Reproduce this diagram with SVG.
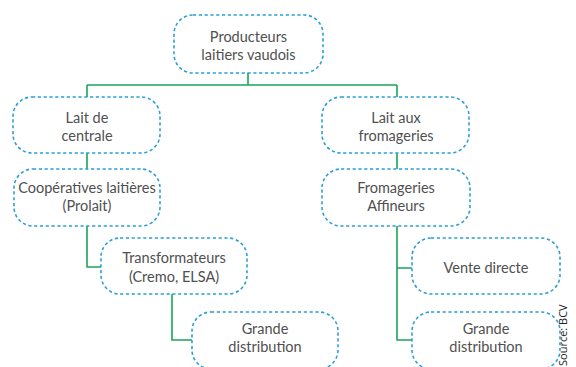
<svg xmlns="http://www.w3.org/2000/svg" width="576" height="367" viewBox="0 0 576 367">
<style>
.box{fill:#fff;stroke:#2e9fd8;stroke-width:1.6;stroke-dasharray:3.2 2.6}
.t{font-family:Lato,"Open Sans",sans-serif;font-size:14.5px;fill:#505050;text-anchor:middle}
.c{fill:none;stroke:#1aa45a;stroke-width:1.6}
.src{font-family:"Open Sans","Liberation Sans",sans-serif;font-size:11px;fill:#222}
</style>
<rect width="576" height="367" fill="#fff"/>
<g id="connectors">
<path class="c" d="M248,73 V85 M87,85 H397 M87,85 V97 M397,85 V97"/>
<path class="c" d="M87,153 V169 M87,226 V267 H101 M172,294 V340 H192"/>
<path class="c" d="M397,153 V169 M397,226 V340 H412 M397,268 H412"/>
</g>
<g id="n-producteurs">
<rect class="box" x="174" y="15" width="149" height="58" rx="19"/>
<text class="t" x="248.5" y="42">Producteurs</text>
<text class="t" x="248.5" y="60">laitiers vaudois</text>
</g>
<g id="n-lait-centrale">
<rect class="box" x="13" y="97" width="147" height="56" rx="19"/>
<text class="t" x="87" y="123">Lait de</text>
<text class="t" x="87" y="141">centrale</text>
</g>
<g id="n-cooperatives">
<rect class="box" x="14" y="169" width="146" height="57" rx="19"/>
<text class="t" x="87" y="193">Coopératives laitières</text>
<text class="t" x="87" y="211">(Prolait)</text>
</g>
<g id="n-transformateurs">
<rect class="box" x="101" y="238" width="146" height="56" rx="19"/>
<text class="t" x="174" y="263">Transformateurs</text>
<text class="t" x="174" y="282">(Cremo, ELSA)</text>
</g>
<g id="n-grande-distribution-1">
<rect class="box" x="192" y="312" width="146" height="57" rx="19"/>
<text class="t" x="265" y="334">Grande</text>
<text class="t" x="265" y="352">distribution</text>
</g>
<g id="n-lait-fromageries">
<rect class="box" x="322" y="97" width="147" height="56" rx="19"/>
<text class="t" x="396" y="123">Lait aux</text>
<text class="t" x="396" y="141">fromageries</text>
</g>
<g id="n-fromageries-affineurs">
<rect class="box" x="322" y="169" width="148" height="57" rx="19"/>
<text class="t" x="396" y="193">Fromageries</text>
<text class="t" x="396" y="211">Affineurs</text>
</g>
<g id="n-vente-directe">
<rect class="box" x="412" y="238" width="148" height="56" rx="19"/>
<text class="t" x="486" y="273">Vente directe</text>
</g>
<g id="n-grande-distribution-2">
<rect class="box" x="412" y="312" width="148" height="57" rx="19"/>
<text class="t" x="486" y="334">Grande</text>
<text class="t" x="486" y="352">distribution</text>
</g>
<text class="src" transform="translate(567,366) rotate(-90)">Source: BCV</text>
</svg>
